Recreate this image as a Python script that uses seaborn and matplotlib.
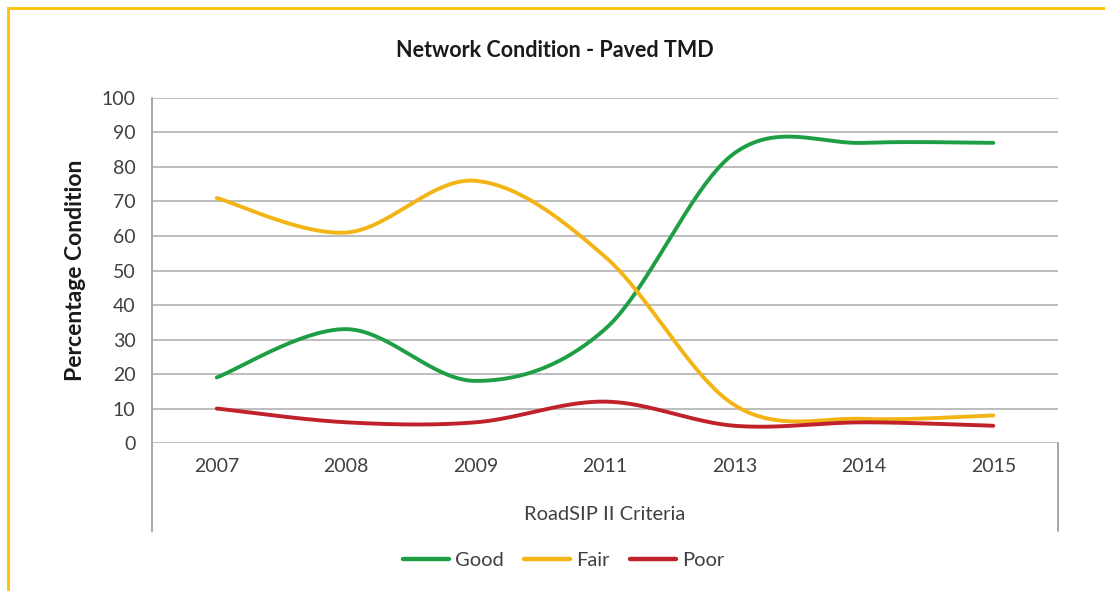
import numpy as np
import pandas as pd
import matplotlib
matplotlib.use("Agg")
import matplotlib.pyplot as plt
from matplotlib.lines import Line2D
from matplotlib.patches import Rectangle
import seaborn as sns

# --- data ---
years = ["2007", "2008", "2009", "2011", "2013", "2014", "2015"]
good = [19, 33, 18, 33, 84, 87, 87]
fair = [71, 61, 76, 54, 11, 7, 8]
poor = [10, 6, 6, 12, 5, 6, 5]
series_names = ["Good", "Fair", "Poor"]
colors = {"Good": "#1E9F45", "Fair": "#F2B515", "Poor": "#C0212B"}


def smooth(values, n=40):
    # Excel-style smoothed line (Catmull-Rom through the data points)
    p = np.asarray(values, dtype=float)
    x = np.arange(len(p), dtype=float)
    pts = np.column_stack([x, p])
    ext = np.vstack([pts[0], pts, pts[-1]])
    out = []
    for i in range(1, len(ext) - 2):
        p0, p1, p2, p3 = ext[i - 1], ext[i], ext[i + 1], ext[i + 2]
        c1 = p1 + (p2 - p0) / 6
        c2 = p2 - (p3 - p1) / 6
        t = np.linspace(0, 1, n, endpoint=False)[:, None]
        seg = ((1 - t) ** 3) * p1 + 3 * ((1 - t) ** 2) * t * c1 + 3 * (1 - t) * t ** 2 * c2 + t ** 3 * p2
        out.append(seg)
    out.append(pts[-1][None, :])
    return np.vstack(out)


frames = []
for name, vals in zip(series_names, [good, fair, poor]):
    xy = smooth(vals)
    frames.append(pd.DataFrame({"x": xy[:, 0], "y": xy[:, 1], "series": name}))
df = pd.concat(frames, ignore_index=True)

sns.set_style("white")
plt.rcParams["font.family"] = ["Lato", "DejaVu Sans"]

fig = plt.figure(figsize=(11.05, 5.91), dpi=100)
ax = fig.add_axes([0.1376, 0.2504, 0.8199, 0.5838])

# horizontal gridlines
for v in range(0, 101, 10):
    ax.axhline(v, color="#BDBDBD", lw=1.4, zorder=0)

sns.lineplot(data=df, x="x", y="y", hue="series", palette=colors, sort=False,
             estimator=None, units="series", lw=2.8, ax=ax, legend=False)

ax.set_xlim(-0.5, len(years) - 0.5)
ax.set_ylim(0, 100)
ax.set_yticks(range(0, 101, 10))
ax.set_xticks(range(len(years)))
ax.set_xticklabels(years)
ax.tick_params(axis="both", length=0, labelsize=14, labelcolor="#404040")
ax.tick_params(axis="x", pad=11)
ax.tick_params(axis="y", pad=12)
for s in ["top", "right", "bottom", "left"]:
    ax.spines[s].set_visible(False)

# axis frame: left line running down into the category area, plus right drop
ax.add_line(Line2D([0, 0], [1, -0.255], transform=ax.transAxes, color="#A6A6A6", lw=1.4, clip_on=False))
ax.add_line(Line2D([1, 1], [0, -0.255], transform=ax.transAxes, color="#A6A6A6", lw=1.4, clip_on=False))

ax.set_xlabel("RoadSIP II Criteria", fontsize=14.5, color="#404040", va="center")
ax.xaxis.set_label_coords(0.5, -0.206)
ax.set_ylabel("Percentage Condition", fontsize=16.5, fontweight="bold", color="#1a1a1a", va="center")
ax.yaxis.set_label_coords(-0.085, 0.5)
fig.text(0.502, 0.915, "Network Condition - Paved TMD", ha="center", va="center",
         fontsize=15.5, fontweight="bold", color="#1a1a1a")

handles = [Line2D([], [], color=colors[n], lw=3.2) for n in series_names]
fig.legend(handles, series_names, loc="center", bbox_to_anchor=(0.51, 0.051), ncol=3,
           frameon=False, fontsize=14.5, handlelength=2.3, columnspacing=1.0, handletextpad=0.3,
           labelcolor="#404040")

# yellow frame around the figure
fig.patches.append(Rectangle((8 / 1105, -0.1), 1.2, 1.1 - 8 / 591, transform=fig.transFigure,
                             fill=False, edgecolor="#FFC000", lw=2, clip_on=False))

fig.savefig("out.png", dpi=100)
